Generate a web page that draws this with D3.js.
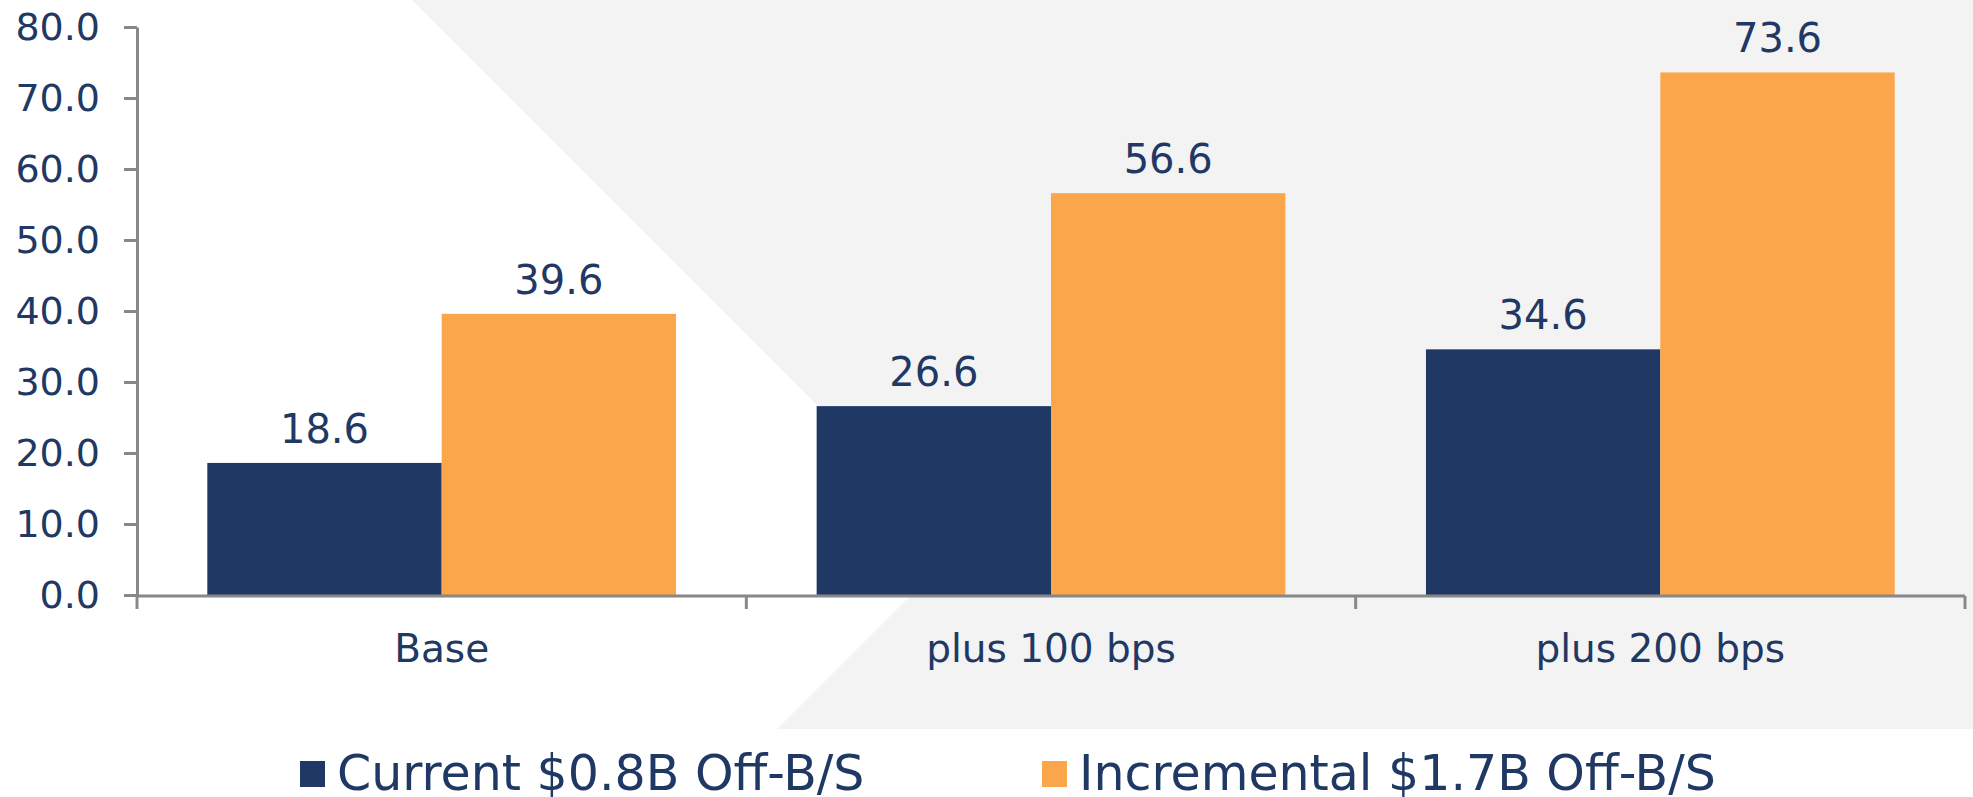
<!DOCTYPE html>
<html>
<head>
<meta charset="utf-8">
<script src="https://cdn.jsdelivr.net/npm/d3@7"></script>
<style>
  body { margin: 0; background: #fff; }
  svg { display: block; }
  text { font-family: "DejaVu Sans", Verdana, sans-serif; fill: #1f3864; }
  .y-axis path, .y-axis line { stroke: #888; stroke-width: 3; }
</style>
</head>
<body>
<div id="main"></div>
<script>
const categories = ['Base', 'plus 100 bps', 'plus 200 bps'];
const seriesNames = ['Current $0.8B Off-B/S', 'Incremental $1.7B Off-B/S'];
const currentValues = [18.6, 26.6, 34.6];
const incrementalValues = [39.6, 56.6, 73.6];
const yTicks = [0, 10, 20, 30, 40, 50, 60, 70, 80];

const colors = ['#203864', '#fba64a'];

const W = 1973, H = 797;
const margin = { top: 27, right: 8, bottom: 202, left: 137 };
const plotW = W - margin.left - margin.right;
const plotH = H - margin.top - margin.bottom;

const svg = d3.select('#main').append('svg')
  .attr('width', W)
  .attr('height', H);

// light grey chevron backdrop
svg.append('polygon')
  .attr('points', [[412, 0], [W, 0], [W, 729], [777, 729], [959, 547]].map(p => p.join(',')).join(' '))
  .attr('fill', '#f3f3f3');

const g = svg.append('g')
  .attr('transform', 'translate(' + margin.left + ',' + margin.top + ')');

const x0 = d3.scaleBand()
  .domain(categories)
  .range([0, plotW])
  .padding(0);

const x1 = d3.scaleBand()
  .domain(seriesNames)
  .range([0, x0.bandwidth()])
  .paddingInner(0)
  .paddingOuter(0.3);

const y = d3.scaleLinear()
  .domain([0, 80])
  .range([plotH, 0]);

const rows = categories.map((c, i) => ({
  category: c,
  values: [
    { name: seriesNames[0], value: currentValues[i] },
    { name: seriesNames[1], value: incrementalValues[i] }
  ]
}));

const groups = g.selectAll('.group')
  .data(rows)
  .enter().append('g')
  .attr('class', 'group')
  .attr('transform', d => 'translate(' + x0(d.category) + ',0)');

groups.selectAll('rect')
  .data(d => d.values)
  .enter().append('rect')
  .attr('x', d => x1(d.name))
  .attr('width', x1.bandwidth())
  .attr('y', d => y(d.value))
  .attr('height', d => plotH - y(d.value))
  .attr('fill', (d, i) => colors[i]);

groups.selectAll('.val')
  .data(d => d.values)
  .enter().append('text')
  .attr('class', 'val')
  .attr('x', d => x1(d.name) + x1.bandwidth() / 2)
  .attr('y', d => y(d.value) - 20)
  .attr('text-anchor', 'middle')
  .style('font-size', '40px')
  .text(d => d3.format('.1f')(d.value));

// y axis
const yAxis = g.append('g')
  .attr('class', 'y-axis')
  .call(d3.axisLeft(y)
    .tickValues(yTicks)
    .tickFormat(d3.format('.1f'))
    .tickSize(13)
    .tickSizeOuter(0)
    .tickPadding(24));
yAxis.selectAll('text')
  .style('font-size', '38px')
  .attr('fill', '#1f3864');

// x axis: baseline plus ticks at band boundaries
const xAxis = g.append('g').attr('class', 'x-axis')
  .attr('transform', 'translate(0,' + (plotH + 1) + ')');
xAxis.append('line')
  .attr('x1', 0).attr('x2', plotW)
  .attr('stroke', '#888').attr('stroke-width', 3);
const bounds = categories.map(c => x0(c)).concat([x0.range()[1]]);
xAxis.selectAll('.tick')
  .data(bounds)
  .enter().append('line')
  .attr('x1', d => d).attr('x2', d => d)
  .attr('y1', 0).attr('y2', 13)
  .attr('stroke', '#888').attr('stroke-width', 3);
xAxis.selectAll('.cat')
  .data(categories)
  .enter().append('text')
  .attr('x', d => x0(d) + x0.bandwidth() / 2)
  .attr('y', 66)
  .attr('text-anchor', 'middle')
  .style('font-size', '39px')
  .text(d => d);

// legend
const legendX = [300, 1042];
const legend = svg.selectAll('.legend')
  .data(seriesNames)
  .enter().append('g')
  .attr('class', 'legend')
  .attr('transform', (d, i) => 'translate(' + legendX[i] + ',761)');
legend.append('rect')
  .attr('width', 25).attr('height', 26)
  .attr('fill', (d, i) => colors[i]);
legend.append('text')
  .attr('x', 37)
  .attr('y', 29)
  .style('font-size', '49px')
  .text(d => d);
</script>
</body>
</html>
